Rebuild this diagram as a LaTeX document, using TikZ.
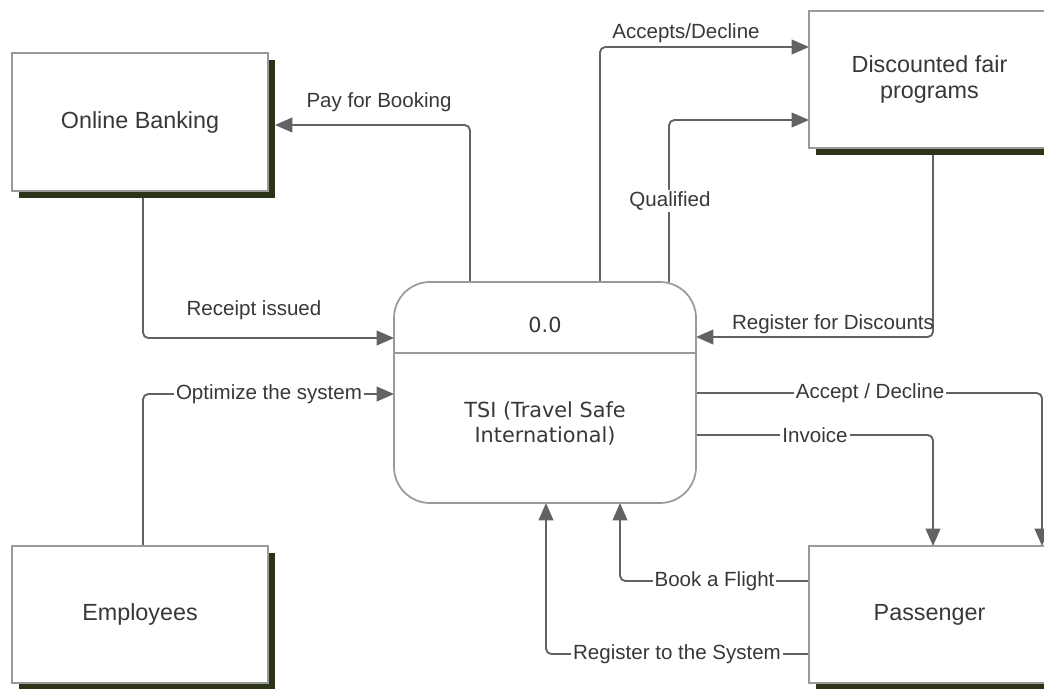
\documentclass[tikz,border=0pt]{standalone}
\usepackage{fontspec}
\setmainfont{Liberation Sans}
\newfontfamily\procfont{DejaVu Sans}
\usetikzlibrary{arrows.meta,shadows}
\definecolor{flowc}{HTML}{626262}
\definecolor{boxc}{HTML}{9A9A9A}
\definecolor{shadowc}{HTML}{2B3319}
\definecolor{textc}{HTML}{383838}
\pgfdeclarelayer{bg}
\pgfsetlayers{bg,main}
\begin{document}
\begin{tikzpicture}[x=0.75pt,y=-0.75pt,
  entity/.style={draw=boxc, line width=1.5pt, fill=white,
    minimum width=192pt, minimum height=103pt, inner sep=0pt, outer sep=0pt,
    align=center, text=textc, font=\fontsize{17.5pt}{20pt}\selectfont,
    drop shadow={shadow xshift=5.25pt, shadow yshift=-5.25pt, fill=shadowc, opacity=1}},
  process/.style={draw=boxc, line width=1.3pt, fill=white, rounded corners=27pt,
    minimum width=226.5pt, minimum height=165.75pt, inner sep=0pt, outer sep=0pt},
  divider/.style={draw=boxc, line width=1.3pt},
  proctext/.style={text=textc, align=center,
    font=\procfont\fontsize{15.6pt}{18.75pt}\selectfont, inner sep=0pt},
  flow/.style={draw=flowc, line width=1.4pt, rounded corners=4pt,
    -{Triangle[length=13pt,width=11pt]}},
  lbl/.style={text=textc, font=\fontsize{15.4pt}{18pt}\selectfont, inner sep=1.5pt},
  cut/.style={lbl, fill=white},
]
\useasboundingbox (0,0) rectangle (1044,688);

% external entities
\node[entity] (ob) at (140,122) {Online Banking};
\node[entity, minimum height=102.75pt] (emp) at (140,614.5) {Employees};
\node[entity, minimum width=180.75pt, minimum height=102.75pt] (dfp) at (929.5,79.5) {Discounted fair\\programs};
\node[entity, minimum width=180.75pt, minimum height=102.75pt] (pax) at (929.5,614.5) {Passenger};
% outer edge of the Online Banking shadow
\coordinate (obr) at ([xshift=5.25pt]ob.east);

% central process
\node[process] (proc) at (545,392.5) {};
\coordinate (div) at (545,353);
\draw[divider] (proc.west |- div) -- (proc.east |- div);
\node[proctext] (pid) at (545,325) {0.0};
\node[proctext] (pname) at (545,423) {TSI (Travel Safe\\International)};

% bend points of the data flows
\coordinate (k1) at (470,125);
\coordinate (k2) at (143,338);
\coordinate (k3) at (143,394);
\coordinate (k4) at (600,47);
\coordinate (k5) at (669,120);
\coordinate (k6) at (933,337);
\coordinate (k7) at (1042,393);
\coordinate (k8) at (933,435);
\coordinate (k9) at (620,581);
\coordinate (k10) at (546,654);

\begin{pgfonlayer}{bg}
\draw[flow] (proc.north -| k1) |- (k1 -| obr);
\draw[flow] (ob.south -| k2) |- (k2 -| proc.west);
\draw[flow] (emp.north -| k3) |- (k3 -| proc.west);
\draw[flow] (proc.north -| k4) |- (k4 -| dfp.west);
\draw[flow] (proc.north -| k5) |- (k5 -| dfp.west);
\draw[flow] (dfp.south -| k6) |- (k6 -| proc.east);
\draw[flow] (proc.east |- k7) -| (pax.north -| k7);
\draw[flow] (proc.east |- k8) -| (pax.north -| k8);
\draw[flow] (pax.west |- k9) -| (proc.south -| k9);
\draw[flow] (pax.west |- k10) -| (proc.south -| k10);
\end{pgfonlayer}

% flow labels
\node[lbl] (l1) at (379,102) {Pay for Booking};
\node[lbl] (l2) at (254,310) {Receipt issued};
\node[cut] (l3) at (269,394) {Optimize the system};
\node[lbl] (l4) at (686,33) {Accepts/Decline};
\node[cut] (l5) at (670,201) {Qualified};
\node[lbl] (l6) at (833,324) {Register for Discounts};
\node[cut] (l7) at (870,393) {Accept / Decline};
\node[cut] (l8) at (815,435) {Invoice};
\node[cut] (l9) at (714.5,581) {Book a Flight};
\node[cut] (l10) at (677,654) {Register to the System};
\end{tikzpicture}
\end{document}
